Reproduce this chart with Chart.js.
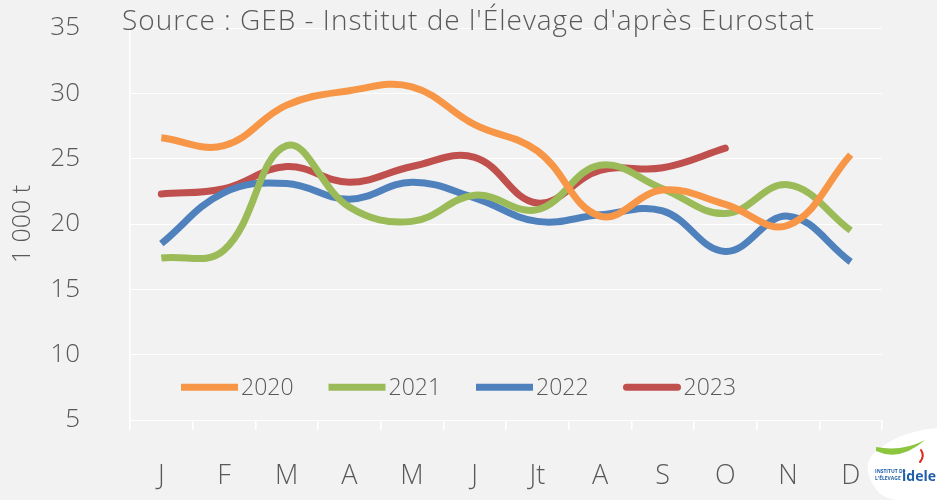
<!DOCTYPE html>
<html>
<head>
<meta charset="utf-8">
<script src="https://cdn.jsdelivr.net/npm/chart.js@4"></script>
<style>
html,body{margin:0;padding:0;background:#f2f2f2;}
#wrap{width:937px;height:500px;position:relative;}
</style>
</head>
<body>
<div id="wrap"><canvas id="c" width="937" height="500"></canvas></div>
<script>
const months = ["J","F","M","A","M","J","Jt","A","S","O","N","D"];
const years = ["2020","2021","2022","2023"];
const v2020 = [26.6, 26.0, 29.1, 30.2, 30.5, 27.6, 25.6, 20.6, 22.6, 21.5, 19.9, 25.3];
const v2021 = [17.4, 18.0, 26.0, 21.3, 20.2, 22.2, 21.1, 24.5, 22.7, 20.8, 23.0, 19.5];
const v2022 = [18.5, 22.4, 23.1, 21.9, 23.2, 22.0, 20.2, 20.7, 21.0, 17.9, 20.6, 17.1];
const v2023 = [22.3, 22.7, 24.4, 23.2, 24.4, 25.1, 21.6, 24.1, 24.3, 25.8];
const yTicks = [5, 10, 15, 20, 25, 30, 35];
const colors = ["#F79646", "#9BBB59", "#4F81BD", "#C0504D"];
const sourceText = "Source : GEB - Institut de l'Élevage d'après Eurostat";
const yTitle = "1 000 t";

const FONT = "'Open Sans', sans-serif";
const TXT = "#595959";

const series = [v2020, v2021, v2022, v2023];

const decor = {
  id: 'decor',
  beforeDraw(chart) {
    const ctx = chart.ctx;
    ctx.save();
    ctx.fillStyle = '#f2f2f2';
    ctx.fillRect(0, 0, chart.width, chart.height);
    ctx.restore();
  },
  afterDraw(chart) {
    const ctx = chart.ctx;
    ctx.save();
    // source title
    ctx.font = "300 28px " + FONT;
    try { ctx.letterSpacing = '1px'; } catch (e) {}
    ctx.fillStyle = TXT;
    ctx.textBaseline = 'alphabetic';
    ctx.textAlign = 'left';
    ctx.fillText(sourceText, 122, 30);
    try { ctx.letterSpacing = '0px'; } catch (e) {}
    // legend inside plot
    const ys = chart.scales.y;
    const ly = ys.getPixelForValue(7.5);
    ctx.font = "300 23px " + FONT;
    ctx.textBaseline = 'middle';
    let x = 181;
    chart.data.datasets.forEach((ds) => {
      const round = ds.borderCapStyle === 'round';
      ctx.strokeStyle = ds.borderColor;
      ctx.lineWidth = 7;
      ctx.lineCap = round ? 'round' : 'butt';
      ctx.beginPath();
      ctx.moveTo(x + (round ? 3 : 0), ly);
      ctx.lineTo(x + 57 - (round ? 3 : 0), ly);
      ctx.stroke();
      ctx.fillStyle = TXT;
      ctx.fillText(ds.label, x + 60, ly + 1);
      x += 147.5;
    });
    // logo
    ctx.fillStyle = '#ffffff';
    ctx.beginPath();
    ctx.moveTo(937, 428);
    ctx.quadraticCurveTo(895, 432, 872, 455);
    ctx.quadraticCurveTo(862, 468, 875, 488);
    ctx.quadraticCurveTo(883, 500, 900, 500);
    ctx.lineTo(937, 500);
    ctx.closePath();
    ctx.fill();
    ctx.fillStyle = '#8cc63f';
    ctx.beginPath();
    ctx.moveTo(876, 451);
    ctx.quadraticCurveTo(900, 462, 925, 440);
    ctx.quadraticCurveTo(902, 452, 876, 447);
    ctx.closePath();
    ctx.fill();
    ctx.strokeStyle = '#e2231a';
    ctx.lineWidth = 2;
    ctx.beginPath();
    ctx.moveTo(921, 450);
    ctx.quadraticCurveTo(925, 456, 920, 462);
    ctx.stroke();
    ctx.fillStyle = '#1f5fa8';
    ctx.font = "bold 14px " + FONT;
    ctx.textBaseline = 'alphabetic';
    ctx.fillText('idele', 902, 481);
    ctx.font = "bold 5px " + FONT;
    ctx.fillText('INSTITUT DE', 875, 473);
    ctx.fillText("L'ÉLEVAGE", 875, 480);
    ctx.restore();
  }
};

new Chart(document.getElementById('c'), {
  type: 'line',
  data: {
    labels: months,
    datasets: years.map((y, i) => ({
      label: y,
      data: series[i],
      borderColor: colors[i],
      backgroundColor: colors[i],
      borderWidth: 7,
      pointRadius: 0,
      tension: 0.4,
      fill: false,
      borderCapStyle: i === 3 ? 'round' : 'butt'
    }))
  },
  options: {
    responsive: false,
    animation: false,
    devicePixelRatio: 1,
    layout: { padding: { top: 28, right: 55, left: 0, bottom: 0 } },
    plugins: {
      legend: { display: false },
      tooltip: { enabled: false }
    },
    scales: {
      x: {
        offset: true,
        grid: {
          offset: true,
          drawOnChartArea: false,
          drawTicks: true,
          tickLength: 10,
          color: '#ffffff',
          lineWidth: 1.5
        },
        border: { display: false },
        ticks: {
          color: TXT,
          font: { family: FONT, size: 27, weight: '300' },
          padding: 30,
          maxRotation: 0,
          autoSkip: false
        },
        afterFit(s) { s.height = 80; s.paddingLeft = 0; s.paddingRight = 0; }
      },
      y: {
        min: 5,
        max: 35,
        afterBuildTicks(s) { s.ticks = yTicks.map(v => ({ value: v })); },
        grid: {
          color: '#ffffff',
          lineWidth: 1,
          drawTicks: false
        },
        border: { display: true, color: '#ffffff', width: 1.5, dash: [] },
        ticks: {
          color: TXT,
          font: { family: FONT, size: 26, weight: '300' },
          padding: 50
        },
        title: {
          display: true,
          text: yTitle,
          color: TXT,
          font: { family: FONT, size: 25, weight: '300' },
          padding: { top: 8, bottom: 0 }
        },
        afterFit(s) { s.width = 130; s.paddingTop = 0; s.paddingBottom = 0; }
      }
    }
  },
  plugins: [decor]
});
</script>
</body>
</html>
